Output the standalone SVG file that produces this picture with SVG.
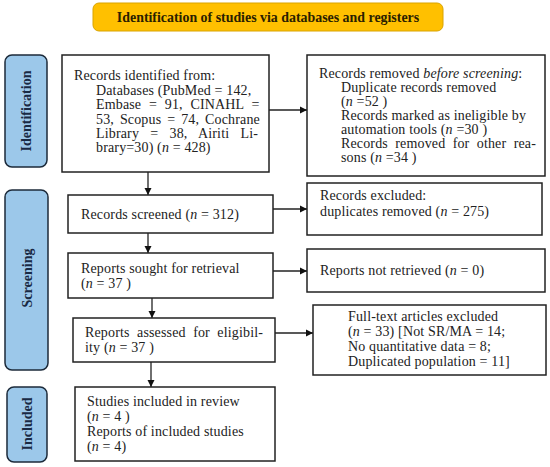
<svg xmlns="http://www.w3.org/2000/svg" width="550" height="467" viewBox="0 0 550 467">
<defs>
<style>
.box{fill:#fff;stroke:#222;stroke-width:1.5}
.side{fill:#9CC8EA;stroke:#1c2a3a;stroke-width:1.5}
.t{font-family:"Liberation Serif","DejaVu Serif",serif;font-size:14px;letter-spacing:0.15px;fill:#222}
.st{font-family:"Liberation Serif",serif;font-size:14px;font-weight:bold;fill:#1a2a44;text-anchor:middle}
.ln{stroke:#222;stroke-width:1.3;fill:none}
</style>
<marker id="ah" markerWidth="8" markerHeight="8" refX="7" refY="4" orient="auto" markerUnits="userSpaceOnUse">
<path d="M0,0.5 L7,4 L0,7.5 Z" fill="#111"/>
</marker>
</defs>
<rect width="550" height="467" fill="#fff"/>
<g id="title">
<rect x="93" y="3" width="350" height="28" rx="6" fill="#FFC000" stroke="#D9A400" stroke-width="1"/>
<text x="268" y="22" style="font-family:'Liberation Serif',serif;font-weight:bold;text-anchor:middle;font-size:13.9px" fill="#2a2000">Identification of studies via databases and registers</text>
</g>
<g id="side-identification">
<rect x="5" y="55" width="42" height="112" rx="7" class="side"/>
<text class="st" transform="translate(31,111) rotate(-90)">Identification</text>
</g>
<g id="side-screening">
<rect x="5" y="190" width="43" height="180" rx="7" class="side"/>
<text class="st" transform="translate(32,278) rotate(-90)">Screening</text>
</g>
<g id="side-included">
<rect x="7" y="387" width="40" height="75" rx="7" class="side"/>
<text class="st" transform="translate(32,424) rotate(-90)">Included</text>
</g>
<g id="connectors">
<line x1="148" y1="172" x2="148" y2="195" class="ln" marker-end="url(#ah)"/>
<line x1="148" y1="233" x2="148" y2="253" class="ln" marker-end="url(#ah)"/>
<line x1="152" y1="298" x2="152" y2="318" class="ln" marker-end="url(#ah)"/>
<line x1="151" y1="362" x2="151" y2="387" class="ln" marker-end="url(#ah)"/>
<line x1="269" y1="110" x2="307" y2="110" class="ln" marker-end="url(#ah)"/>
<line x1="273" y1="209" x2="307" y2="209" class="ln" marker-end="url(#ah)"/>
<line x1="273" y1="271" x2="307" y2="271" class="ln" marker-end="url(#ah)"/>
<line x1="275" y1="333" x2="313" y2="333" class="ln" marker-end="url(#ah)"/>
</g>
<g id="records-identified">
<rect x="62" y="55" width="207" height="117" class="box"/>
<text class="t" x="74" y="80">Records identified from:</text>
<text class="t" x="96" y="95">Databases (PubMed = 142,</text>
<text class="t" x="96" y="109" word-spacing="4.1">Embase = 91, CINAHL =</text>
<text class="t" x="96" y="124" word-spacing="2.3">53, Scopus = 74, Cochrane</text>
<text class="t" x="96" y="138" word-spacing="7.6">Library = 38, Airiti Li-</text>
<text class="t" x="96" y="152">brary=30) (<tspan font-style="italic">n</tspan> = 428)</text>
</g>
<g id="records-removed">
<rect x="307" y="55" width="238" height="121" class="box"/>
<text class="t" x="319" y="78">Records removed <tspan font-style="italic">before screening</tspan>:</text>
<text class="t" x="341" y="92">Duplicate records removed</text>
<text class="t" x="341" y="106">(<tspan font-style="italic">n</tspan> =52 )</text>
<text class="t" x="341" y="120">Records marked as ineligible by</text>
<text class="t" x="341" y="134">automation tools (<tspan font-style="italic">n</tspan> =30 )</text>
<text class="t" x="341" y="148" word-spacing="3.7">Records removed for other rea-</text>
<text class="t" x="341" y="162">sons (<tspan font-style="italic">n</tspan> =34 )</text>
</g>
<g id="records-screened">
<rect x="68" y="195" width="205" height="38" class="box"/>
<text class="t" x="81" y="219">Records screened (<tspan font-style="italic">n</tspan> = 312)</text>
</g>
<g id="records-excluded">
<rect x="307" y="183" width="235" height="52" class="box"/>
<text class="t" x="320" y="200">Records excluded:</text>
<text class="t" x="320" y="216">duplicates removed (<tspan font-style="italic">n</tspan> = 275)</text>
</g>
<g id="reports-sought">
<rect x="68" y="253" width="205" height="45" class="box"/>
<text class="t" x="81" y="273">Reports sought for retrieval</text>
<text class="t" x="81" y="288">(<tspan font-style="italic">n</tspan> = 37 )</text>
</g>
<g id="reports-not-retrieved">
<rect x="307" y="249" width="238" height="43" class="box"/>
<text class="t" x="320" y="275">Reports not retrieved (<tspan font-style="italic">n</tspan> = 0)</text>
</g>
<g id="reports-assessed">
<rect x="73" y="318" width="202" height="44" class="box"/>
<text class="t" x="85" y="337" word-spacing="3.8">Reports assessed for eligibil-</text>
<text class="t" x="85" y="352">ity (<tspan font-style="italic">n</tspan> = 37 )</text>
</g>
<g id="fulltext-excluded">
<rect x="313" y="305" width="233" height="70" class="box"/>
<text class="t" x="348" y="321">Full-text articles excluded</text>
<text class="t" x="348" y="336">(<tspan font-style="italic">n</tspan> = 33) [Not SR/MA = 14;</text>
<text class="t" x="348" y="351">No quantitative data = 8;</text>
<text class="t" x="348" y="366">Duplicated population = 11]</text>
</g>
<g id="studies-included">
<rect x="75" y="387" width="200" height="74" class="box"/>
<text class="t" x="87" y="406">Studies included in review</text>
<text class="t" x="87" y="421">(<tspan font-style="italic">n</tspan> = 4 )</text>
<text class="t" x="87" y="436">Reports of included studies</text>
<text class="t" x="87" y="451">(<tspan font-style="italic">n</tspan> = 4)</text>
</g>
</svg>
